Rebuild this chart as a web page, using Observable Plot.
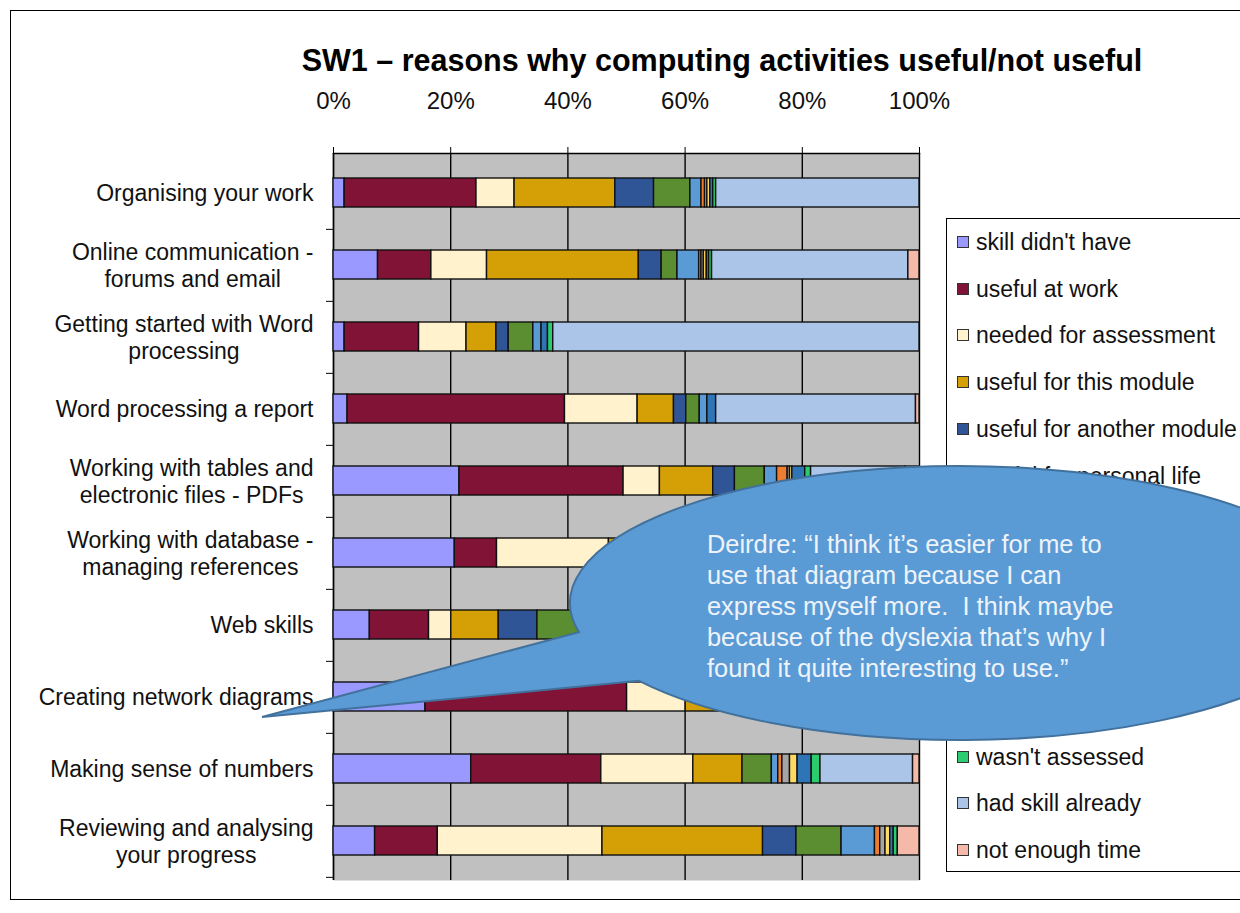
<!DOCTYPE html>
<html>
<head>
<meta charset="utf-8">
<script src="https://cdn.jsdelivr.net/npm/d3@7"></script>
<script src="https://cdn.jsdelivr.net/npm/@observablehq/plot@0.6"></script>
<style>
  body { margin: 0; background: #fff; font-family: "Liberation Sans", Arial, sans-serif; }
  #wrap { position: relative; width: 1240px; height: 913px; overflow: hidden; background: #fff; }
  #wrap > svg.plot { position: absolute; left: 0; top: 0; }
  #border { position: absolute; left: 10px; top: 10px; width: 1260px; height: 890px; border: 1.5px solid #000; box-sizing: border-box; }
  #title { position: absolute; left: 222px; width: 1000px; top: 42px; text-align: center; font-weight: bold; font-size: 30.5px; line-height: 36px; color: #000; }
  #legend { position: absolute; left: 946px; top: 218px; width: 320px; height: 654px; border: 1.5px solid #000; box-sizing: border-box; background: #fff; }
  .li { position: absolute; left: 10px; height: 28px; line-height: 28px; font-size: 23px; color: #111; white-space: nowrap; }
  .sw { display: inline-block; width: 10px; height: 10px; border: 1px solid #333; margin-right: 7px; vertical-align: middle; position: relative; top: -2px; }
  #callout { position: absolute; left: 0; top: 0; pointer-events: none; }
</style>
</head>
<body>
<div id="wrap">
  <div id="border"></div>
  <div id="title">SW1 – reasons why computing activities useful/not useful</div>
  <div id="legend"></div>
</div>
<script>
// ---- data (percent of responses) ----
const categories = [
  "Organising your work",
  "Online communication -\nforums and email",
  "Getting started with Word\nprocessing",
  "Word processing a report",
  "Working with tables and\nelectronic files - PDFs",
  "Working with database -\nmanaging references",
  "Web skills",
  "Creating network diagrams",
  "Making sense of numbers",
  "Reviewing and analysing\nyour progress"
];
const reasons = [
  "skill didn't have",
  "useful at work",
  "needed for assessment",
  "useful for this module",
  "useful for another module",
  "useful for personal life",
  "useful in the future",
  "enjoyed doing it",
  "helped my confidence",
  "not relevant to me",
  "too difficult",
  "wasn't assessed",
  "had skill already",
  "not enough time"
];
const reasonColors = [
  "#9999FF", "#801336", "#FFF2CC", "#D4A005", "#2F5597", "#5A8E30", "#5B9BD5",
  "#ED7D31", "#A5A5A5", "#FFD966", "#2E75B6", "#2BCB6F", "#ABC5E8", "#F4B9A8"
];
const skillDidntHave      = [1.9, 7.6, 1.9, 2.4, 21.5, 20.7, 6.2, 15.7, 23.5, 7.1];
const usefulAtWork        = [22.5, 9.1, 12.7, 37.1, 28.0, 7.2, 10.1, 34.4, 22.2, 10.7];
const neededForAssessment = [6.5, 9.5, 8.1, 12.4, 6.2, 19.1, 3.8, 10.0, 15.7, 28.1];
const usefulThisModule    = [17.2, 25.9, 5.1, 6.2, 9.1, 8.0, 8.1, 6.0, 8.4, 27.4];
const usefulAnotherModule = [6.6, 3.9, 2.1, 2.1, 3.7, 4.0, 6.6, 3.0, 0, 5.7];
const usefulPersonalLife  = [6.2, 2.7, 4.2, 2.3, 5.1, 6.0, 12.0, 5.0, 5.0, 7.7];
const usefulInFuture      = [1.9, 3.7, 1.4, 1.3, 2.1, 2.0, 3.0, 2.0, 1.1, 5.7];
const enjoyedDoingIt      = [0.6, 0.4, 0, 0, 1.8, 1.0, 1.0, 0.5, 0.7, 0.9];
const helpedConfidence    = [0.4, 0.4, 0, 0, 0.4, 0.5, 1.0, 0.5, 1.3, 0.9];
const notRelevant         = [0.5, 0.5, 0, 0, 0.4, 0.5, 1.0, 0.5, 1.3, 0.8];
const tooDifficult        = [0.5, 0.4, 1.1, 1.5, 2.2, 1.5, 2.0, 1.5, 2.4, 0.6];
const wasntAssessed       = [0.5, 0.5, 0.9, 0, 1.0, 1.0, 1.0, 1.0, 1.5, 0.7];
const hadSkillAlready     = [34.7, 33.5, 62.5, 34.1, 16.1, 25.5, 41.0, 18.0, 15.8, 0];
const notEnoughTime       = [0, 1.9, 0, 0.6, 2.4, 3.0, 3.2, 1.9, 1.1, 3.7];
const xTicks = [0, 0.2, 0.4, 0.6, 0.8, 1];

const seriesValues = [
  skillDidntHave, usefulAtWork, neededForAssessment, usefulThisModule,
  usefulAnotherModule, usefulPersonalLife, usefulInFuture, enjoyedDoingIt,
  helpedConfidence, notRelevant, tooDifficult, wasntAssessed, hadSkillAlready, notEnoughTime
];

const rows = [];
categories.forEach((c, ci) => {
  reasons.forEach((r, ri) => {
    const v = seriesValues[ri][ci];
    if (v > 0) rows.push({category: c, reason: r, value: v});
  });
});

// ---- layout ----
const W = 1240, H = 913;
const mL = 333, mR = 321, mT = 153, mB = 33;
const padIn = 0.6, padOut = 0.3;
const step = (H - mT - mB) / (categories.length - padIn + 2 * padOut);

const chart = Plot.plot({
  width: W, height: H,
  marginLeft: mL, marginRight: mR, marginTop: mT, marginBottom: mB,
  style: {fontFamily: "Liberation Sans, Arial, sans-serif", background: "transparent", color: "#111"},
  x: {domain: [0, 1], axis: null},
  y: {domain: categories, paddingInner: padIn, paddingOuter: padOut, axis: null},
  color: {domain: reasons, range: reasonColors},
  marks: [
    Plot.frame({fill: "#C0C0C0", stroke: null}),
    Plot.gridX(xTicks, {stroke: "#000", strokeOpacity: 1, strokeWidth: 1.4}),
    Plot.frame({anchor: "top", stroke: "#000", strokeWidth: 1.4}),
    Plot.ruleX([0], {stroke: "#000", strokeWidth: 1.4}),
    Plot.barX(rows, Plot.stackX({
      x: "value", y: "category", fill: "reason", offset: "normalize", order: null,
      stroke: "#111", strokeWidth: 1.4
    })),
    Plot.axisX({anchor: "top", ticks: xTicks, tickFormat: d3.format(".0%"), tickSize: 7, tickPadding: 38, fontSize: 24, label: null, stroke: "#000"}),
    Plot.axisY({anchor: "left", tickSize: 0, tickPadding: 20, fontSize: 23, lineHeight: 1.15, label: null, lineWidth: 40}),
    Plot.axisY({anchor: "left", tickSize: 7, tickFormat: () => "", dy: step / 2, label: null, stroke: "#000"})
  ]
});
chart.classList.add("plot");
const wrap = document.getElementById("wrap");
wrap.insertBefore(chart, document.getElementById("title"));

// centre the lines of two-line category labels (Excel style)
d3.select(chart).selectAll("g[aria-label='y-axis tick label'] text").each(function() {
  const tspans = this.querySelectorAll("tspan");
  if (tspans.length > 1) {
    const w = this.getBBox().width;
    this.setAttribute("text-anchor", "middle");
    tspans.forEach(t => t.setAttribute("x", -w / 2));
  }
});

// ---- legend ----
const legend = document.getElementById("legend");
const legTop = 242.3 - 218, legStep = 46.8;
reasons.forEach((r, i) => {
  const d = document.createElement("div");
  d.className = "li";
  d.style.top = (legTop + i * legStep - 14 - 1.5) + "px";
  d.innerHTML = `<span class="sw" style="background:${reasonColors[i]}"></span>`;
  d.appendChild(document.createTextNode(r));
  legend.appendChild(d);
});

// ---- callout annotation (elliptical speech bubble) ----
const quoteLines = [
  "Deirdre: \u201CI think it\u2019s easier for me to",
  "use that diagram because I can",
  "express myself more.  I think maybe",
  "because of the dyslexia that\u2019s why I",
  "found it quite interesting to use.\u201D"
];
const svg = d3.select(wrap).append("svg").attr("id", "callout").attr("width", W).attr("height", H);
const fillC = "#5B9BD5", strokeC = "#41719C";
const ell = {cx: 960, cy: 603, rx: 390, ry: 137, rot: 0};
const th = ell.rot * Math.PI / 180, cs = Math.cos(th), sn = Math.sin(th);
const toLocal = ([x, y]) => { const dx = x - ell.cx, dy = y - ell.cy; return [dx * cs + dy * sn, -dx * sn + dy * cs]; };
const toScreen = ([u, v]) => [ell.cx + u * cs - v * sn, ell.cy + u * sn + v * cs];
const tip = [262, 717];
// first point where the line from the tip through a guide point enters the ellipse
function entry(guide) {
  const T = toLocal(tip), G = toLocal(guide);
  const D = [G[0] - T[0], G[1] - T[1]];
  const a2 = ell.rx * ell.rx, b2 = ell.ry * ell.ry;
  const A = D[0] * D[0] / a2 + D[1] * D[1] / b2;
  const B = 2 * (T[0] * D[0] / a2 + T[1] * D[1] / b2);
  const C = T[0] * T[0] / a2 + T[1] * T[1] / b2 - 1;
  const s = (-B - Math.sqrt(B * B - 4 * A * C)) / (2 * A);
  return toScreen([T[0] + s * D[0], T[1] + s * D[1]]);
}
const base1 = entry([598, 627]);
const base2 = entry([648, 680]);
svg.append("path")
  .attr("d", `M${base1[0]},${base1[1]} A${ell.rx},${ell.ry} ${ell.rot} 1 1 ${base2[0]},${base2[1]} L${tip[0]},${tip[1]} Z`)
  .attr("fill", fillC).attr("stroke", strokeC).attr("stroke-width", 2).attr("stroke-linejoin", "miter");
const t = svg.append("text").attr("x", 707).attr("font-size", 25.4).attr("fill", "#EEF3FA")
  .attr("font-family", "Liberation Sans, Arial, sans-serif").style("white-space", "pre");
quoteLines.forEach((l, i) => {
  t.append("tspan").attr("x", 707).attr("y", 546 + i * 31).attr("dominant-baseline", "middle").text(l);
});
</script>
</body>
</html>
